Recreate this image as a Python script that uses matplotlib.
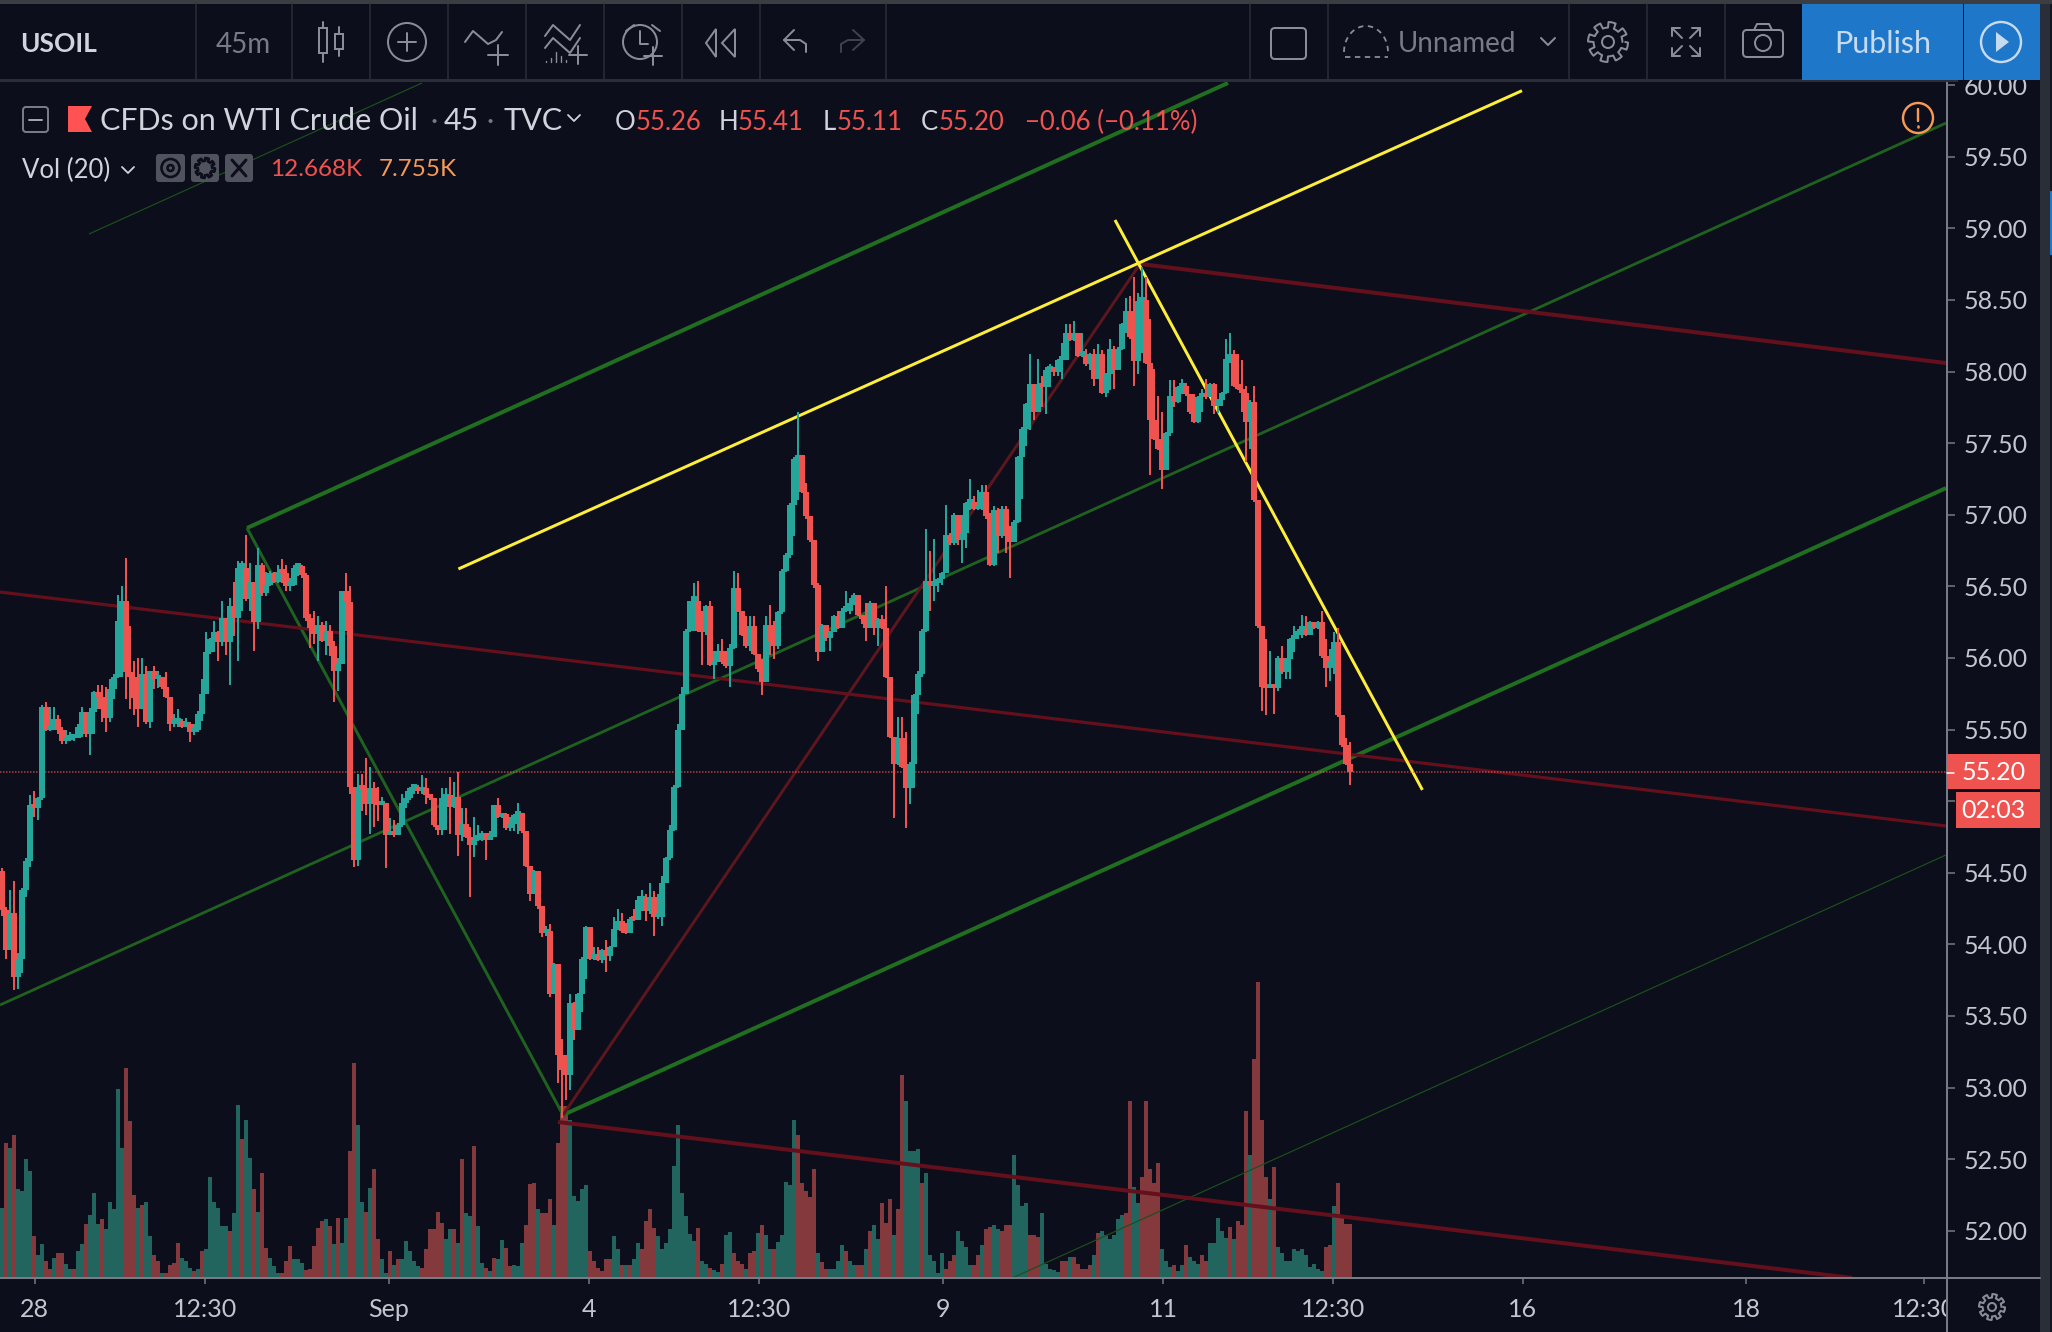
#!/usr/bin/env python3
"""USOIL 45m TradingView screenshot, redrawn with matplotlib."""

import matplotlib

matplotlib.use("Agg")
import matplotlib.pyplot as plt
import numpy as np
from matplotlib.patches import Circle, FancyBboxPatch, Polygon, Rectangle

plt.rcParams["font.family"] = ["Lato", "DejaVu Sans"]

W, H = 2052, 1332
BG = "#0c0e1b"
UP, DOWN = "#26a69a", "#ef5350"
VOL_UP, VOL_DOWN = "#22655f", "#84393c"
TEXT = "#d1d4dc"
GREY = "#787b86"
ICON = "#8a8d98"
SEP = "#2a2e39"

first_open = 54.51

closes = [
    54.24, 53.96, 54.22, 53.77, 53.90, 54.38, 54.58, 54.97, 54.95, 55.02,
    55.66, 55.50, 55.52, 55.57, 55.50, 55.42, 55.43, 55.44, 55.44, 55.52,
    55.62, 55.47, 55.62, 55.76, 55.73, 55.64, 55.58, 55.78, 55.87, 56.26,
    56.40, 55.90, 55.87, 55.72, 55.64, 55.89, 55.55, 55.91, 55.85, 55.87,
    55.80, 55.73, 55.54, 55.55, 55.56, 55.52, 55.54, 55.48, 55.50, 55.61,
    55.75, 56.04, 56.13, 56.18, 56.11, 56.28, 56.11, 56.36, 56.28, 56.63,
    56.63, 56.41, 56.53, 56.25, 56.65, 56.45, 56.51, 56.59, 56.53, 56.60,
    56.59, 56.50, 56.51, 56.63, 56.64, 56.58, 56.28, 56.21, 56.17, 56.23,
    56.12, 56.19, 56.08, 55.91, 55.96, 56.47, 56.39, 55.10, 54.59, 55.10,
    55.08, 54.98, 55.09, 54.98, 54.97, 54.99, 54.76, 54.79, 54.76, 54.83,
    54.99, 55.02, 55.09, 55.10, 55.07, 55.09, 55.04, 55.02, 54.83, 54.80,
    55.02, 55.04, 54.96, 55.03, 54.76, 54.84, 54.75, 54.69, 54.73, 54.73,
    54.78, 54.73, 54.75, 54.97, 54.89, 54.91, 54.81, 54.84, 54.90, 54.92,
    54.79, 54.55, 54.35, 54.51, 54.27, 54.08, 54.09, 53.65, 53.86, 53.23,
    53.12, 53.09, 53.59, 53.40, 53.65, 53.90, 54.12, 53.90, 53.91, 53.89,
    53.96, 53.92, 53.98, 54.11, 54.16, 54.09, 54.08, 54.18, 54.17, 54.31,
    54.33, 54.23, 54.33, 54.19, 54.19, 54.43, 54.60, 54.80, 55.10, 55.50,
    55.75, 56.19, 56.40, 56.40, 56.19, 56.18, 56.36, 55.95, 55.98,
    56.05, 55.97, 55.94, 56.07, 56.49, 56.33, 56.16, 56.08, 56.22, 56.03,
    55.92, 55.83, 56.23, 56.11, 56.08, 56.32, 56.61, 56.72, 57.07,
    57.39, 57.42, 57.16, 56.99, 56.82, 56.51, 56.04, 56.23, 56.14, 56.18,
    56.29, 56.21, 56.33, 56.33, 56.38, 56.44, 56.30, 56.27, 56.21, 56.38,
    56.21, 56.27, 56.21, 55.87, 55.45, 55.26, 55.44, 55.24, 55.09, 55.26,
    55.74, 55.89, 56.19, 56.54, 56.50, 56.52, 56.55, 56.59, 56.86, 56.80,
    57.00, 56.82, 56.87, 57.08, 57.09, 57.04, 57.04, 57.16, 56.99, 56.65,
    57.03, 56.85, 57.04, 56.85, 56.81, 56.95, 57.40, 57.60, 57.77, 57.91,
    57.72, 57.91, 57.89, 58.01, 58.01, 58.00, 58.08, 58.08, 58.27, 58.22,
    58.27, 58.11, 58.11, 58.05, 58.12, 57.95, 58.12, 57.85, 57.98, 58.16,
    58.01, 58.16, 58.33, 58.42, 58.24, 58.07, 58.49, 58.50, 58.06, 57.66,
    57.53, 57.46, 57.31, 57.57, 57.83, 57.79, 57.89, 57.90, 57.84, 57.72, 57.65,
    57.82, 57.83, 57.82, 57.91, 57.76, 57.80, 57.85, 58.09, 58.12, 57.90,
    57.88, 57.85, 57.65, 57.79, 57.10, 56.22, 55.80, 55.79, 55.80, 55.79,
    56.00, 55.90, 55.99, 56.13, 56.16, 56.19, 56.20, 56.16, 56.25, 56.21,
    56.25, 56.01, 55.93, 55.98, 56.11, 55.60, 55.39, 55.26, 55.20,
]

highs = [
    54.53, 54.26, 54.38, 54.44, 53.94, 54.39, 54.60, 55.04, 55.07, 55.03,
    55.67, 55.69, 55.66, 55.66, 55.60, 55.52, 55.50, 55.48, 55.47, 55.54,
    55.66, 55.62, 55.65, 55.77, 55.81, 55.81, 55.80, 55.85, 55.89, 56.44,
    56.50, 56.70, 56.22, 55.98, 56.00, 56.00, 55.94, 55.91, 55.94, 55.91,
    55.85, 55.90, 55.73, 55.61, 55.64, 55.57, 55.58, 55.55, 55.54, 55.63,
    55.85, 56.18, 56.14, 56.26, 56.19, 56.40, 56.28, 56.42, 56.53, 56.68,
    56.68, 56.86, 56.66, 56.53, 56.77, 56.66, 56.60, 56.61, 56.60, 56.65,
    56.69, 56.65, 56.56, 56.65, 56.66, 56.65, 56.59, 56.31, 56.33, 56.29,
    56.25, 56.26, 56.23, 56.12, 56.00, 56.47, 56.59, 56.50, 55.10, 55.19,
    55.19, 55.30, 55.24, 55.13, 55.10, 55.03, 54.98, 54.88, 54.87, 54.85,
    55.05, 55.07, 55.10, 55.11, 55.11, 55.18, 55.16, 55.05, 55.02, 54.83,
    55.09, 55.09, 55.17, 55.13, 55.20, 54.95, 54.95, 54.82, 54.89, 54.83,
    54.79, 54.78, 54.79, 54.97, 55.02, 54.92, 54.92, 54.89, 54.91, 54.99,
    54.92, 54.79, 54.55, 54.52, 54.51, 54.27, 54.13, 54.14, 53.87, 53.71,
    53.34, 53.23, 53.65, 53.60, 53.66, 53.91, 54.13, 54.12, 53.98, 53.98,
    53.97, 54.03, 53.99, 54.19, 54.25, 54.22, 54.15, 54.19, 54.25, 54.34,
    54.38, 54.35, 54.43, 54.37, 54.35, 54.48, 54.61, 54.83, 55.11, 55.54,
    55.80, 56.20, 56.40, 56.52, 56.54, 56.33, 56.37, 56.40, 56.05,
    56.10, 56.13, 56.05, 56.10, 56.61, 56.59, 56.33, 56.29, 56.29, 56.29,
    56.03, 55.99, 56.29, 56.37, 56.26, 56.33, 56.62, 56.73, 57.08,
    57.40, 57.72, 57.42, 57.22, 56.99, 56.82, 56.52, 56.24, 56.19, 56.19,
    56.30, 56.33, 56.35, 56.47, 56.42, 56.45, 56.44, 56.30, 56.38, 56.40,
    56.38, 56.28, 56.30, 56.50, 55.87, 55.45, 55.59, 55.59, 55.48, 55.27,
    55.75, 55.91, 56.20, 56.90, 56.75, 56.83, 56.56, 56.60, 57.07, 56.87,
    57.01, 57.00, 57.00, 57.09, 57.25, 57.13, 57.17, 57.21, 57.21, 57.01,
    57.06, 57.05, 57.06, 57.06, 56.92, 56.96, 57.41, 57.61, 57.78, 58.12,
    57.91, 58.09, 57.97, 58.03, 58.05, 58.03, 58.09, 58.20, 58.33, 58.33,
    58.35, 58.27, 58.27, 58.16, 58.13, 58.16, 58.19, 58.15, 57.99, 58.23,
    58.18, 58.17, 58.34, 58.51, 58.53, 58.66, 58.55, 58.73, 58.66, 58.37,
    58.02, 57.83, 57.72, 57.58, 57.94, 57.94, 57.90, 57.95, 57.92, 57.84, 57.84,
    57.83, 57.88, 57.95, 57.92, 57.92, 57.81, 57.86, 58.23, 58.27, 58.15,
    58.12, 58.08, 57.90, 57.80, 57.90, 57.10, 56.22, 56.13, 56.05, 55.80,
    56.01, 56.08, 56.00, 56.14, 56.22, 56.20, 56.30, 56.29, 56.26, 56.25,
    56.26, 56.33, 56.13, 56.06, 56.18, 56.21, 55.60, 55.44, 55.41,
]

lows = [
    54.20, 53.90, 53.96, 53.68, 53.69, 53.80, 54.33, 54.54, 54.89, 54.87,
    55.01, 55.49, 55.49, 55.50, 55.47, 55.40, 55.40, 55.42, 55.42, 55.44,
    55.45, 55.45, 55.32, 55.47, 55.64, 55.55, 55.48, 55.55, 55.71, 55.86,
    55.87, 55.71, 55.64, 55.60, 55.52, 55.64, 55.54, 55.51, 55.78, 55.79,
    55.78, 55.72, 55.49, 55.52, 55.52, 55.51, 55.52, 55.41, 55.46, 55.48,
    55.56, 55.75, 56.03, 56.04, 55.98, 56.08, 56.02, 55.81, 56.15, 55.98,
    56.33, 56.40, 56.33, 56.05, 56.20, 56.43, 56.43, 56.50, 56.52, 56.52,
    56.52, 56.47, 56.47, 56.50, 56.57, 56.56, 56.26, 56.07, 56.10, 55.98,
    56.11, 56.02, 56.01, 55.69, 55.77, 55.96, 56.19, 55.05, 54.54, 54.55,
    54.93, 54.90, 54.77, 54.82, 54.86, 54.97, 54.53, 54.76, 54.75, 54.76,
    54.82, 54.95, 55.01, 55.05, 55.05, 55.05, 54.98, 55.01, 54.82, 54.76,
    54.76, 54.80, 54.77, 54.95, 54.62, 54.72, 54.74, 54.33, 54.61, 54.72,
    54.72, 54.59, 54.73, 54.75, 54.88, 54.88, 54.80, 54.79, 54.79, 54.77,
    54.78, 54.54, 54.30, 54.35, 54.25, 54.05, 54.06, 53.63, 53.65, 53.03,
    52.79, 52.91, 52.98, 53.33, 53.40, 53.53, 53.76, 53.89, 53.89, 53.88,
    53.87, 53.81, 53.88, 53.98, 54.10, 54.08, 54.07, 54.08, 54.16, 54.17,
    54.23, 54.16, 54.21, 54.06, 54.18, 54.13, 54.43, 54.59, 54.79, 55.09,
    55.50, 55.93, 56.18, 56.19, 56.18, 55.95, 56.16, 55.94, 55.85,
    55.97, 55.96, 55.93, 55.80, 56.06, 56.32, 56.15, 56.07, 56.05, 56.02,
    55.90, 55.74, 55.83, 56.02, 55.99, 56.06, 56.31, 56.60, 56.70,
    56.85, 57.10, 57.15, 56.97, 56.81, 56.49, 55.98, 56.04, 56.12, 56.05,
    56.18, 56.20, 56.21, 56.32, 56.31, 56.37, 56.29, 56.24, 56.12, 56.21,
    56.16, 56.08, 56.20, 55.86, 55.44, 54.88, 55.25, 55.23, 54.81, 54.98,
    55.09, 55.61, 55.87, 56.18, 56.33, 56.40, 56.46, 56.51, 56.67, 56.79,
    56.79, 56.79, 56.66, 56.77, 57.03, 57.03, 57.03, 57.03, 56.97, 56.64,
    56.64, 56.73, 56.84, 56.73, 56.56, 56.81, 56.94, 57.11, 57.48, 57.59,
    57.66, 57.72, 57.75, 57.70, 57.89, 57.97, 57.97, 57.95, 58.08, 58.21,
    58.21, 58.10, 58.10, 58.04, 58.01, 57.90, 57.95, 57.84, 57.82, 57.87,
    57.88, 58.01, 58.15, 58.27, 58.23, 57.90, 57.98, 58.13, 58.05, 57.28,
    57.52, 57.45, 57.18, 57.31, 57.55, 57.75, 57.78, 57.84, 57.83, 57.70, 57.64,
    57.64, 57.72, 57.81, 57.82, 57.70, 57.71, 57.76, 57.84, 58.06, 57.89,
    57.87, 57.72, 57.37, 57.46, 57.09, 56.21, 55.63, 55.60, 55.79, 55.61,
    55.77, 55.89, 55.85, 55.85, 56.04, 56.13, 56.14, 56.15, 56.16, 56.20,
    56.20, 56.00, 55.80, 55.84, 55.89, 55.59, 55.38, 55.25, 55.11,
]

# thousands of contracts, sign is the bar colour (up/down)
volumes = [
    16.5, -31.6, 30.6, -33.5, 20.8, 20.4, 27.9, 25.1, -9.9, 5.3,
    7.9, -4, -2, 4.8, -5.8, -5.8, 3.4, 2, -2, 6.3,
    8, -12.6, 14.7, 19.9, 12.6, -13.8, 11.4, 17.8, 16.1, 44.3,
    30.6, -49.4, -36.9, -19.4, 16.5, -17.1, 17.8, 9.9, -5.3, -4,
    1.1, -1.2, -3, -3.6, -8.1, 4.8, 3.9, 2.4, -1.6, 2,
    -6.3, 6.7, 23.6, 17.8, 16.5, 12.2, 12.2, -11, 15.2, 40.5,
    -32.6, 37.2, 28.2, -20.8, 15.6, -24.6, -7.1, 4.8, 2.8, 1.1,
    -1.1, -3.9, -7.5, 4.4, 4.4, 3.6, -1.9, -2, -7.5, -11.8,
    -13.4, 13.8, -12.2, 7.9, -14.2, 8.1, 14.2, -29.8, -50.4, 35.8,
    17.8, -15.6, 21.2, -25.5, -9.1, 4.4, 1.1, -6.3, 3, -4.4,
    4.4, 8.7, 6.3, 3.9, 2.8, -2.4, -6.7, -11.4, -11.4, -15.6,
    -13, 9.1, 11.4, -11.4, 8.3, -27.9, 15.2, 14.6, -31.1, 12.2,
    3.6, -2.4, 1.6, -4.8, 4.4, 9, -7.1, -2.8, 3, 2.8,
    8.1, -12.4, -22, -22.2, 16.1, -15.3, -15.3, -18.5, 12.4, -31.6,
    -40.4, -40.4, 37, 19.2, 18, 20.8, 21.8, -6.3, -3.9, -2.4,
    -1.6, -4.4, -4.4, 9.9, 6.7, -3, 3, -3, 4.4, 8.1,
    -6.7, -13.4, -16.1, -11.8, 9.9, 6.7, 8.3, 11.4, 26.3, 35.8,
    19.9, 14.6, 10.3, 8.7, -11.8,
    3.9, 3.4, -2.4, 1.9, 1.4, -3.4, 10, 10.9, -5.8, -3.9,
    -3.4, 2.2, -5.9, -6.3, 10.5, -12.4, 10, 6.7, -6.7, 8.5,
    10, 22.6, 21.8, 37.2, -33.5, -22.2, -20.4, -19.1, -25.5, 5.8,
    -3.8, -2, 2, 2, 3.9, 7.7, -6.3, 3.9, 3, -3,
    -3, 6.7, -11, 12.4, 9.1, -17.5, -12.8, -18.5, 10, -16.1,
    -47.6, 41.5, 29.7, 29.7, 30.2, -22.4, 24.6, 5.3, 3.9, 1.1,
    5.8, -2, -3.9, -5.3, 11, 8.6, 7.2, 3, -3, -5.3,
    7.7, -11.4, -11.9, 12.4, 11.4, -11, -12.4, -12.4, 28.8, 21.8,
    17, 17.5, -10, -10, -9.7, 15.2, 3.4, 2, 1.9, 1.4,
    -3.9, -3.9, 4.9, -4.9, -3.2, -2, -2, -3, 5.3, -10.5,
    11, 10, 9.1, 10, 13.8, 14.7, -15.2, -41.5, 21.3, 17.5,
    -23.6, -41.5, -25.5, -22.2, -26.9, 6.7, 3.9, 2.5, -3, 1.6,
    3, -7.7, 4.9, 3.9, 3.4, -5.3, -3.9, 8.1, 8.1, 14.2,
    11, 9.5, -11.9, 9.1, -13.3, -12.4, -39.1, 28.8, -51.3, -69.6,
    -37.2, -23.6, 18.5, -26, 7.2, 5.8, 3.9, 3.9, 6.7, 6.3,
    6.7, 5.3, 2.5, 3.4, 2, 1.6, -7.2, -7.7, 17, -22.2,
    -14.2, -12.6, -12.668,
]

price_ticks = np.arange(52.0, 60.5, 0.5)
time_ticks = [8.2, 50.7, 96.7, 146.7, 189.2, 235.2, 290.25, 332.65, 380.25, 436, 480.5]
time_labels = ["28", "12:30", "Sep", "4", "12:30", "9", "11", "12:30", "16", "18", "12:30"]

# drawings: (bar, price) end points
green_lines = [
    ([61.25, 306.5], [56.907, 60.015], 4.0, "#206e1f"),
    ([140.25, 486], [52.808, 57.186], 4.0, "#206e1f"),
    ([-0.5, 486], [53.576, 59.735], 2.8, "#1f611f"),
    ([61.25, 140.25], [56.907, 52.808], 3.0, "#1f611f"),
    ([21.75, 105], [58.96, 60.015], 1.2, "#1c4f1c"),
    ([252.6, 486], [51.67, 54.624], 1.2, "#1c4f1c"),
]
red_lines = [
    ([284.5, 486], [58.751, 58.059], 4.0, "#64101c"),
    ([-0.5, 486], [56.46, 54.826], 3.2, "#64101c"),
    ([139, 462.5], [52.759, 51.67], 4.0, "#64101c"),
    ([140.25, 284.5], [52.808, 58.751], 3.0, "#5c161e"),
]
yellow_lines = [
    ([114.1, 380], [56.621, 59.961]),
    ([278.25, 355.1], [59.058, 55.078]),
]

assert len(closes) == len(highs) == len(lows) == 338, (len(closes), len(highs), len(lows))

PX = 72 / 100  # points per pixel at dpi 100


def lw(px):
    return px * PX


fig = plt.figure(figsize=(W / 100, H / 100), dpi=100, facecolor=BG)
rect = [0, 1 - 1278 / H, 1947 / W, (1278 - 80) / H]

ax_vol = fig.add_axes(rect, facecolor=BG, zorder=1)
ax = fig.add_axes(rect, facecolor="none", zorder=2)
ui = fig.add_axes([0, 0, 1, 1], facecolor="none", zorder=5)

bars = np.arange(len(closes))
c = np.array(closes)
o = np.r_[first_open, c[:-1]]
hi = np.maximum(np.maximum(highs, o), c)
lo = np.minimum(np.minimum(lows, o), c)
is_up = c >= o
colors = np.where(is_up, UP, DOWN)

vol = np.array(volumes, dtype=float)
vol_x = np.arange(len(vol))
ax_vol.bar(vol_x, np.abs(vol), width=1.0, color=np.where(vol > 0, VOL_UP, VOL_DOWN), linewidth=0)
ax_vol.set_ylim(0, (1278 - 80) / 4.26)
ax_vol.axis("off")

for xs, ys, width, color in green_lines + red_lines:
    ax.plot(xs, ys, color=color, lw=lw(width), solid_capstyle="butt", zorder=2)
for xs, ys in yellow_lines:
    ax.plot(xs, ys, color="#fdee3a", lw=lw(3.0), solid_capstyle="butt", zorder=2)

ax.axhline(closes[-1], color=DOWN, lw=lw(1.5), ls=(0, (1, 1)), alpha=0.75, zorder=2)

ax.vlines(bars, lo, hi, colors=colors, lw=lw(2.0), zorder=3)
body_h = np.maximum(np.abs(c - o), 0.03)
ax.bar(bars, body_h, bottom=np.minimum(o, c), width=1.4, color=colors, linewidth=0, zorder=4)

for a in (ax, ax_vol):
    a.set_xlim((0 - 2) / 4, (1947 - 2) / 4)
ax.set_ylim(59.5 - (1278 - 156.7) / 143.2, 59.5 + (156.7 - 80) / 143.2)

for side in ("top", "left"):
    ax.spines[side].set_visible(False)
for side in ("bottom", "right"):
    ax.spines[side].set_color(GREY)
    ax.spines[side].set_linewidth(lw(2))

ax.yaxis.tick_right()
ax.set_yticks(price_ticks)
# 55.00 sits under the countdown tag in the reference
ax.set_yticklabels(["" if p == 55.0 else f"{p:.2f}" for p in price_ticks])
ax.set_xticks(time_ticks)
ax.set_xticklabels(time_labels)
ax.tick_params(axis="y", length=lw(8), width=lw(1.5), color=GREY, labelcolor="#c3c6ce", labelsize=18, pad=lw(9))
ax.tick_params(axis="x", length=lw(6), width=lw(1.5), color=GREY, labelcolor="#c3c6ce", labelsize=18, pad=lw(14))

# ---- interface chrome, in image pixels ----
ui.set_xlim(0, W)
ui.set_ylim(H, 0)
ui.axis("off")


def rect_px(x0, y0, x1, y1, color, z=1, **kw):
    ui.add_patch(Rectangle((x0, y0), x1 - x0, y1 - y0, facecolor=color, edgecolor="none", zorder=z, **kw))


def line_px(xs, ys, color=ICON, width=2.0, z=3, **kw):
    ui.plot(xs, ys, color=color, lw=lw(width), zorder=z, solid_capstyle="round", **kw)


def text_px(x, y, s, color=TEXT, size=18, ha="left", **kw):
    ui.text(x, y, s, color=color, fontsize=size, ha=ha, va="center", zorder=4, **kw)


def circle_px(x, y, r, color=ICON, width=2.0, fill="none"):
    ui.add_patch(Circle((x, y), r, edgecolor=color, facecolor=fill, lw=lw(width), zorder=3))


def plus_px(x, y, r, color=ICON):
    line_px([x - r, x + r], [y, y], color)
    line_px([x, x], [y - r, y + r], color)


def gear_px(x, y, r, color=ICON, width=2.0):
    t = np.linspace(0, 2 * np.pi, 241)
    rad = r * (0.86 + 0.14 * np.sign(np.sin(8 * t)))
    line_px(x + rad * np.cos(t), y + rad * np.sin(t), color, width)


# toolbar
rect_px(0, 0, W, 80, BG)
rect_px(0, 0, W, 4, "#3b3d42")
rect_px(0, 79, 1958, 82, SEP)
rect_px(2040, 4, 2050, H, SEP)
rect_px(2050, 4, W, H, "#131722")
rect_px(2050, 191, W, 255, "#1f77c9")
for x in [196.4, 291.5, 370, 448, 525.5, 604, 682, 759.6, 886, 1250, 1327.5, 1569, 1647, 1725]:
    line_px([x, x], [4, 79], SEP, 1.5, solid_joinstyle="miter")

text_px(20, 44, "USOIL", size=19, fontweight="bold")
text_px(243, 45, "45m", GREY, 20, ha="center")

# candle icon
line_px([323, 323], [22, 62])
ui.add_patch(Rectangle((319, 28), 8, 25, facecolor=BG, edgecolor=ICON, lw=lw(2), zorder=3))
line_px([339, 339], [27, 56])
ui.add_patch(Rectangle((335, 34), 8, 15, facecolor=BG, edgecolor=ICON, lw=lw(2), zorder=3))
# add indicator
circle_px(407, 42, 19)
plus_px(407, 42, 9)
# compare
line_px([465, 473, 480, 488, 496, 502], [42, 31, 37, 44, 40, 32])
plus_px(498, 55, 10)
line_px([545, 553, 562, 570, 580], [36, 25, 33, 40, 25])
line_px([545, 553, 562, 570, 580], [48, 38, 46, 53, 38])
for x, top in zip([546, 551, 556, 561, 566], [61, 58, 52, 56, 60]):
    line_px([x, x], [top, 62], width=1.4)
plus_px(578, 55, 9)
# alert
circle_px(640, 42, 17)
line_px([640, 640, 648], [31, 44, 44])
line_px([626, 634], [31, 25])
line_px([652, 660], [25, 31])
plus_px(653, 56, 9)
# replay
ui.add_patch(Polygon([[716, 29], [706, 43], [716, 57]], closed=True, facecolor="none", edgecolor=ICON, lw=lw(2), zorder=3))
ui.add_patch(Polygon([[735, 29], [722, 43], [735, 57]], closed=True, facecolor="none", edgecolor=ICON, lw=lw(2), zorder=3))
# undo / redo
line_px([794, 784, 794], [30, 40, 50])
line_px([784, 800, 806, 806], [40, 40, 44, 52])
line_px([853, 864, 853], [30, 40, 50], "#3f424d")
line_px([864, 848, 841, 841], [40, 40, 44, 52], "#3f424d")

# right side of toolbar
ui.add_patch(FancyBboxPatch((1271, 28), 35, 31, boxstyle="round,pad=0,rounding_size=4", facecolor="none", edgecolor=ICON, lw=lw(2), zorder=3))
t = np.linspace(np.pi, 2 * np.pi, 40)
line_px(1366 + 22 * np.cos(t), 52 + 26 * np.sin(t), ICON, 1.8, ls=(0, (3, 2.5)))
line_px([1345, 1388], [57, 57], ICON, 1.8, ls=(0, (3, 2.5)))
text_px(1398, 44, "Unnamed", GREY, 20)
line_px([1541, 1548, 1555], [38, 45, 38])
gear_px(1608, 42, 20)
circle_px(1608, 42, 6)
for dx, dy in [(-1, -1), (1, -1), (-1, 1), (1, 1)]:
    cx, cy = 1686 + 14 * dx, 42 + 14 * dy
    line_px([cx, cx - 10 * dx], [cy, cy - 10 * dy])
    line_px([cx - 8 * dx, cx, cx], [cy, cy, cy - 8 * dy])
ui.add_patch(FancyBboxPatch((1743, 30), 40, 27, boxstyle="round,pad=0,rounding_size=4", facecolor="none", edgecolor=ICON, lw=lw(2), zorder=3))
line_px([1754, 1757, 1769, 1772], [30, 24, 24, 30])
circle_px(1763, 43, 8)

rect_px(1802, 4, 1962.5, 80, "#1f77c9")
rect_px(1964, 4, 2040, 80, "#1f77c9")
text_px(1882.5, 44, "Publish", "#c6dbf0", 22, ha="center")
circle_px(2001, 42, 20, "#c6dbf0", 2.4)
ui.add_patch(Polygon([[1996, 32], [2009, 42], [1996, 52]], closed=True, facecolor="#c6dbf0", edgecolor="none", zorder=3))

# legend
ui.add_patch(FancyBboxPatch((23, 107), 25, 25, boxstyle="round,pad=0,rounding_size=3", facecolor="none", edgecolor=GREY, lw=lw(2), zorder=3))
line_px([29, 42], [119.5, 119.5], "#a0a3ad")
ui.add_patch(Polygon([[68, 106], [92, 106], [85, 119], [92, 132], [68, 132]], closed=True, facecolor="#ff5252", edgecolor="none", zorder=3))
text_px(100, 121, "CFDs on WTI Crude Oil", TEXT, 22)
text_px(434, 121, "·", GREY, 20, ha="center")
text_px(461, 121, "45", TEXT, 22, ha="center")
text_px(490, 121, "·", GREY, 20, ha="center")
text_px(504, 121, "TVC", TEXT, 22)
line_px([568, 574, 580], [115, 121, 115], TEXT, 1.8)
text_px(615, 122, "O", TEXT, 18.5)
text_px(636, 122, "55.26", DOWN, 18.5)
text_px(719, 122, "H", TEXT, 18.5)
text_px(738, 122, "55.41", DOWN, 18.5)
text_px(823, 122, "L", TEXT, 18.5)
text_px(837, 122, "55.11", DOWN, 18.5)
text_px(921, 122, "C", TEXT, 18.5)
text_px(939, 122, "55.20", DOWN, 18.5)
text_px(1025, 122, "−0.06 (−0.11%)", DOWN, 18.5)

text_px(22, 170, "Vol (20)", TEXT, 18.5)
line_px([122, 128, 134], [167, 173, 167], TEXT, 1.8)
for x0, x1 in [(156, 185), (191, 219), (225, 253)]:
    ui.add_patch(FancyBboxPatch((x0, 154), x1 - x0, 28, boxstyle="round,pad=0,rounding_size=3", facecolor="#50535e", edgecolor="none", zorder=3))
circle_px(170.5, 168, 9, BG, 2.6)
circle_px(170.5, 168, 3, BG, 2.6)
gear_px(205, 168, 10, BG, 2.6)
line_px([232, 246], [160, 176], BG, 3)
line_px([232, 246], [176, 160], BG, 3)
text_px(270, 170, "12.668K", DOWN, 17.5)
text_px(379, 170, "7.755K", "#f79a55", 17.5)

# data-problem mark
circle_px(1918, 118, 15, "#f79a55", 2.4)
line_px([1918, 1918], [109, 121], "#f79a55", 2.4)
line_px([1918, 1918], [126, 126.5], "#f79a55", 2.6)

# price axis tags
rect_px(1947, 754, 2040, 789, DOWN)
rect_px(1956, 792, 2040, 828, DOWN)
line_px([1947, 1954], [772.7, 772.7], "#ffffff", 1.5)
text_px(1993.5, 772, f"{closes[-1]:.2f}", "#ffffff", 18, ha="center")
text_px(1993.5, 810, "02:03", "#ffffff", 18, ha="center")

# corner under the price axis
rect_px(1948, 1280, 2040, H, BG, z=1)
line_px([1947, 2040], [1278, 1278], GREY, 2)
line_px([1947, 1947], [1278, H], GREY, 2)
gear_px(1992, 1307, 13)
circle_px(1992, 1307, 4)

fig.savefig("out.png", dpi=100, facecolor=BG)
